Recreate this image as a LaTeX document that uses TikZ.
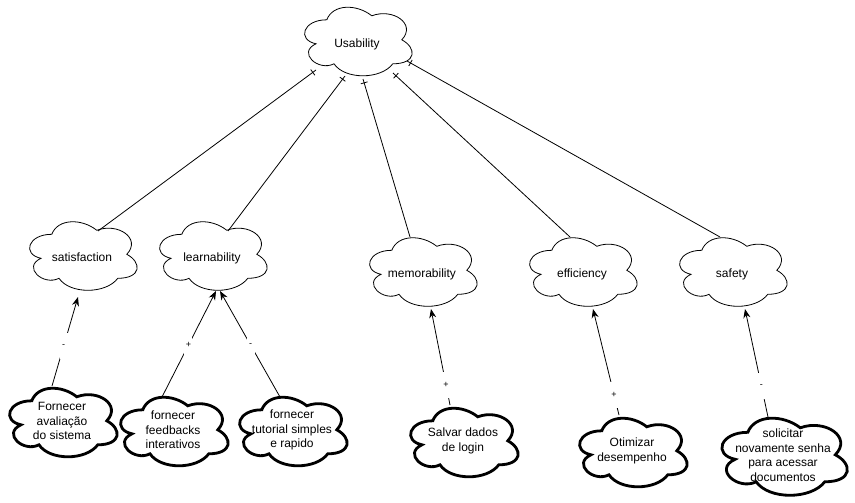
\documentclass[tikz,border=0pt]{standalone}
\usepackage{fontspec}
\setmainfont{Liberation Sans}
\usetikzlibrary{arrows.meta,calc,decorations.markings}

\newcommand{\cloudoutline}[4][]{%
  \begin{scope}[shift={(#2.north west)}, x=#3, y=-#4]
    \draw[#1] (0.25,0.25) .. controls (0.05,0.25) and (0,0.5) .. (0.16,0.55)
      .. controls (0,0.66) and (0.18,0.9) .. (0.31,0.8)
      .. controls (0.4,1) and (0.7,1) .. (0.8,0.8)
      .. controls (1,0.8) and (1,0.6) .. (0.875,0.5)
      .. controls (1,0.3) and (0.8,0.1) .. (0.625,0.2)
      .. controls (0.5,0.05) and (0.3,0.05) .. (0.25,0.25) -- cycle;
  \end{scope}}

\tikzset{
  softgoal/.style={rectangle, minimum width=120pt, minimum height=80pt, inner sep=0pt,
    align=center, font=\fontsize{12}{14.5}\selectfont},
  onelinegoal/.style={softgoal, text height=14.5pt, text depth=0pt},
  bigsoftgoal/.style={softgoal, minimum width=140pt, minimum height=90pt},
  thinline/.style={line width=0.8pt},
  boldline/.style={line width=2.8pt},
  link/.style={line width=0.8pt},
  barmark/.style={postaction={decorate, decoration={markings,
    mark=at position 4pt with {\draw[line width=0.8pt] (0,-3.5pt) -- (0,3.5pt);}}}},
  contrib/.style={line width=0.8pt, -{Stealth[length=9pt,width=7pt]}},
  sign/.style={fill=white, inner sep=0pt, minimum width=8pt, minimum height=26pt,
    font=\fontsize{9}{10}\selectfont}
}

\begin{document}
\begin{tikzpicture}[x=1pt, y=-1pt]
\useasboundingbox (0,0) rectangle (855,503);

% top-level softgoal
\node[onelinegoal] (U) at (357,40) {Usability};

% second level
\node[onelinegoal] (sat) at (82,254.5) {satisfaction};
\node[onelinegoal] (lea) at (212,254.5) {learnability};
\node[onelinegoal] (mem) at (422,270.5) {memorability};
\node[onelinegoal] (eff) at (582,270.5) {efficiency};
\node[onelinegoal] (saf) at (732,270.5) {safety};

% operationalizations
\node[softgoal] (f1) at (62,421) {Fornecer\\avaliação\\do sistema};
\node[softgoal] (f2) at (173,430) {fornecer\\feedbacks\\interativos};
\node[softgoal] (f3) at (292,430) {fornecer\\tutorial simples\\e rapido};
\node[softgoal] (sv) at (463,441) {Salvar dados\\de login};
\node[softgoal] (ot) at (632,451) {Otimizar\\desempenho};
\node[bigsoftgoal] (so) at (783,455) {solicitar\\novamente senha\\para acessar\\documentos};

% cloud outlines
\cloudoutline[thinline]{U}{120pt}{80pt}
\cloudoutline[thinline]{sat}{120pt}{80pt}
\cloudoutline[thinline]{lea}{120pt}{80pt}
\cloudoutline[thinline]{mem}{120pt}{80pt}
\cloudoutline[thinline]{eff}{120pt}{80pt}
\cloudoutline[thinline]{saf}{120pt}{80pt}
\cloudoutline[boldline]{f1}{120pt}{80pt}
\cloudoutline[boldline]{f2}{120pt}{80pt}
\cloudoutline[boldline]{f3}{120pt}{80pt}
\cloudoutline[boldline]{sv}{120pt}{80pt}
\cloudoutline[boldline]{ot}{120pt}{80pt}
\cloudoutline[boldline]{so}{140pt}{90pt}

% decomposition links
\draw[link, barmark] ($(U.center)+(-41,30)$) -- ($(sat.center)+(16,-23.5)$);
\draw[link, barmark] ($(U.center)+(-12,36)$) -- ($(lea.center)+(16,-23.5)$);
\draw[link, barmark] ($(U.center)+(6,39)$) -- ($(mem.center)+(-12,-33.5)$);
\draw[link, barmark] ($(U.center)+(36,33)$) -- ($(eff.center)+(-12,-33.5)$);
\draw[link, barmark] ($(U.center)+(50,21)$) -- ($(saf.center)+(-12,-33.5)$);

% contributions
\draw[contrib] ($(f1.center)+(-10,-35)$) -- node[sign, pos=0.45] {-} ($(sat.center)+(-4,42.5)$);
\draw[contrib] ($(f2.center)+(-11,-33)$) -- node[sign, pos=0.49] {+} ($(lea.center)+(4,36.5)$);
\draw[contrib] ($(f3.center)+(-12,-33)$) -- node[sign, pos=0.49] {-} ($(lea.center)+(8,36.5)$);
\draw[contrib] ($(sv.center)+(-13,-36)$) -- node[sign, pos=0.21] {+} ($(mem.center)+(9,38.5)$);
\draw[contrib] ($(ot.center)+(-13,-36)$) -- node[sign, pos=0.19] {+} ($(eff.center)+(11,38.5)$);
\draw[contrib] ($(so.center)+(-15,-38)$) -- node[sign, pos=0.29] {-} ($(saf.center)+(13,38.5)$);
\end{tikzpicture}
\end{document}
